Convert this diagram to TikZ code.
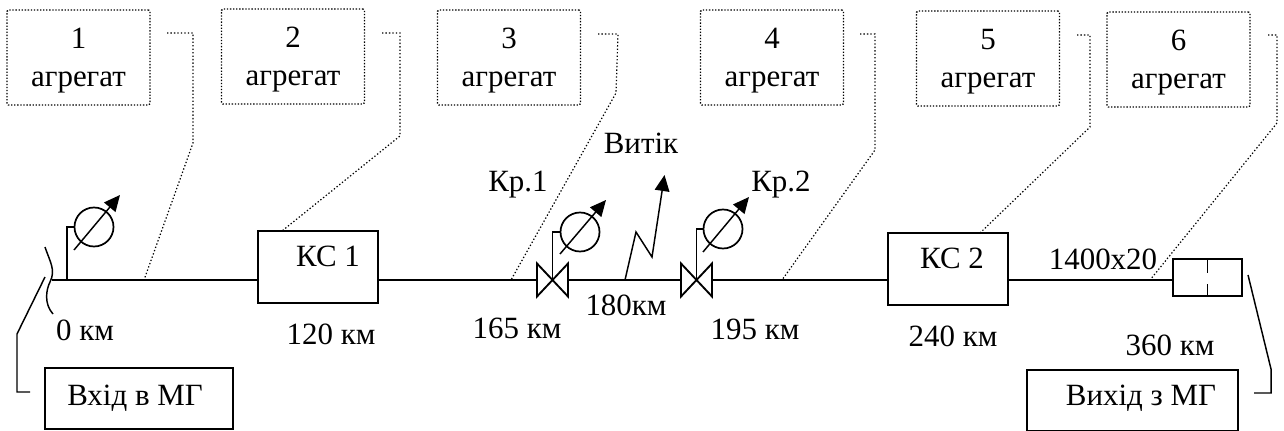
\documentclass[tikz,border=0pt]{standalone}
\usepackage{fontspec}
\setmainfont{Liberation Serif}
\usetikzlibrary{arrows.meta}
\newcommand{\pxlen}{0.75pt}
\newcommand{\agg}[1]{\rule{0pt}{19.2pt}#1\\агрегат}
\tikzset{
  x=0.75pt,y=-0.75pt,
  every node/.style={inner sep=0pt,outer sep=0pt},
  lbl/.style={font=\fontsize{23.2}{26}\selectfont,anchor=center},
  solidbox/.style 2 args={draw,line width=1.3pt,minimum width=#1*\pxlen,minimum height=#2*\pxlen},
  dotbox/.style={draw,line width=1pt,dash pattern=on 1pt off 1.3pt,rounded corners=1pt,minimum width=143*\pxlen,minimum height=95*\pxlen,align=center,font=\fontsize{23.2}{28.5}\selectfont},
  leader/.style={line width=0.9pt,dash pattern=on 1pt off 1.6pt},
  pipe/.style={line width=1.4pt},
  thin line/.style={line width=1.1pt},
  gauge/.style={circle,draw,line width=1.3pt,minimum size=39*\pxlen},
  gaugearrow/.style={line width=1.1pt,-{Stealth[length=12pt,width=11pt,inset=0pt]}},
}
\begin{document}
\begin{tikzpicture}
\useasboundingbox (0,0) rectangle (1284,431);

% aggregate boxes
\node[dotbox] (a1) at (78.5,57.5) {\agg{1}};
\node[dotbox] (a2) at (293,56.5) {\agg{2}};
\node[dotbox] (a3) at (509,57.5) {\agg{3}};
\node[dotbox] (a4) at (772,57.5) {\agg{4}};
\node[dotbox] (a5) at (988,58.5) {\agg{5}};
\node[dotbox] (a6) at (1178.5,59.5) {\agg{6}};

% solid boxes
\node[solidbox={120}{72}] (ks1) at (318,267) {};
\node[solidbox={120}{72}] (ks2) at (948,269) {};
\node[solidbox={69}{37}] (end) at (1207.5,277.5) {};
\node[solidbox={188}{61}] (inp) at (139,398.5) {};
\node[solidbox={211}{61}] (out) at (1132.5,400.5) {};

% pipe coordinates
\coordinate (start) at (52,280);
\coordinate (t1) at (144,280);
\coordinate (t3) at (511,280);
\coordinate (t4) at (782,280);
\coordinate (t6) at (1150,280);
\coordinate (v1) at (552.5,280);
\coordinate (v2) at (696.5,280);
\coordinate (leak) at (625,280);
\coordinate (g0) at (67,280);

% pipe
\draw[pipe] (start) -- (start -| ks1.west);
\draw[pipe] (ks1.east |- start) -- (start -| ks2.west);
\draw[pipe] (ks2.east |- start) -- (end.west |- t6);

% pipe break
\draw[thin line] (45,247) .. controls (50,262) and (56,270) .. (50,282) .. controls (46,290) and (44,304) .. (53,314);

% end divider
\draw[line width=0.8pt] (end.north) -- ++(0,14);
\draw[line width=0.8pt] (end.south) -- ++(0,-12);

% gauges
\node[gauge] (c0) at (94,227) {};
\node[gauge] (c1) at (580,232) {};
\node[gauge] (c2) at (723,229) {};
\draw[thin line] (g0) |- (c0.west);
\draw[thin line] (v1) |- (c1.west);
\draw[thin line] (v2) |- (c2.west);
\coordinate (a0s) at (74,250);\coordinate (a0e) at (120,195);
\coordinate (a1s) at (560,254);\coordinate (a1e) at (606,200);
\coordinate (a2s) at (703,252);\coordinate (a2e) at (749,197);
\draw[gaugearrow] (a0s) -- (a0e);
\draw[gaugearrow] (a1s) -- (a1e);
\draw[gaugearrow] (a2s) -- (a2e);

% valves
\draw[pipe,line join=miter,fill=white] (v1) ++(-15.5,-16.5) -- ++(31,33) -- ++(0,-33) -- ++(-31,33) -- cycle;
\draw[pipe,line join=miter,fill=white] (v2) ++(-15.5,-16.5) -- ++(31,33) -- ++(0,-33) -- ++(-31,33) -- cycle;
\draw[thin line] (v1) -- ++(0,-16);
\draw[thin line] (v2) -- ++(0,-16);

% leak
\coordinate (lk1) at (636,232);\coordinate (lk2) at (652,257);\coordinate (lk3) at (664.5,175);
\draw[gaugearrow] (leak) -- (lk1) -- (lk2) -- (lk3);

% leaders
\draw[leader] (167,33) -- (193,33) -- (193,143) -- (t1);
\draw[leader] (382,33) -- (400,33) -- (400,136) -- (282,231);
\draw[leader] (598,34) -- (618,34) -- (616,93) -- (t3);
\draw[leader] (860,34) -- (875,34) -- (875,150) -- (t4);
\draw[leader] (1077,35) -- (1090,35) -- (1090,127) -- (980,233);
\draw[leader] (1268,35) -- (1277,35) -- (1277,123) -- (t6);

% in / out brackets
\draw[thin line] (45,277) -- (17,334) -- (17,392) -- (30,392);
\draw[thin line] (1248,275) -- (1271,369) -- (1271,393) -- (1254,393);

% labels
\node[lbl] (ks1t) at (328,256) {КС 1};
\node[lbl] (ks2t) at (952,258) {КС 2};
\node[lbl] (inpt) at (135,398) {Вхід в МГ};
\node[lbl] (outt) at (1141,398) {Вихід з МГ};
\node[lbl] (l0) at (85,330) {0 км};
\node[lbl] (l120) at (331,334) {120 км};
\node[lbl] (l165) at (517,328) {165 км};
\node[lbl] (l180) at (626,305) {180км};
\node[lbl] (l195) at (755,329) {195 км};
\node[lbl] (l240) at (953,336) {240 км};
\node[lbl] (l360) at (1170,345) {360 км};
\node[lbl] (lpipe) at (1103,259) {1400x20};
\node[lbl] (kr1) at (518,185) {Кр.1};
\node[lbl] (kr2) at (781,185) {Кр.2};
\node[lbl] (vit) at (641,143) {Витік};
\end{tikzpicture}
\end{document}
